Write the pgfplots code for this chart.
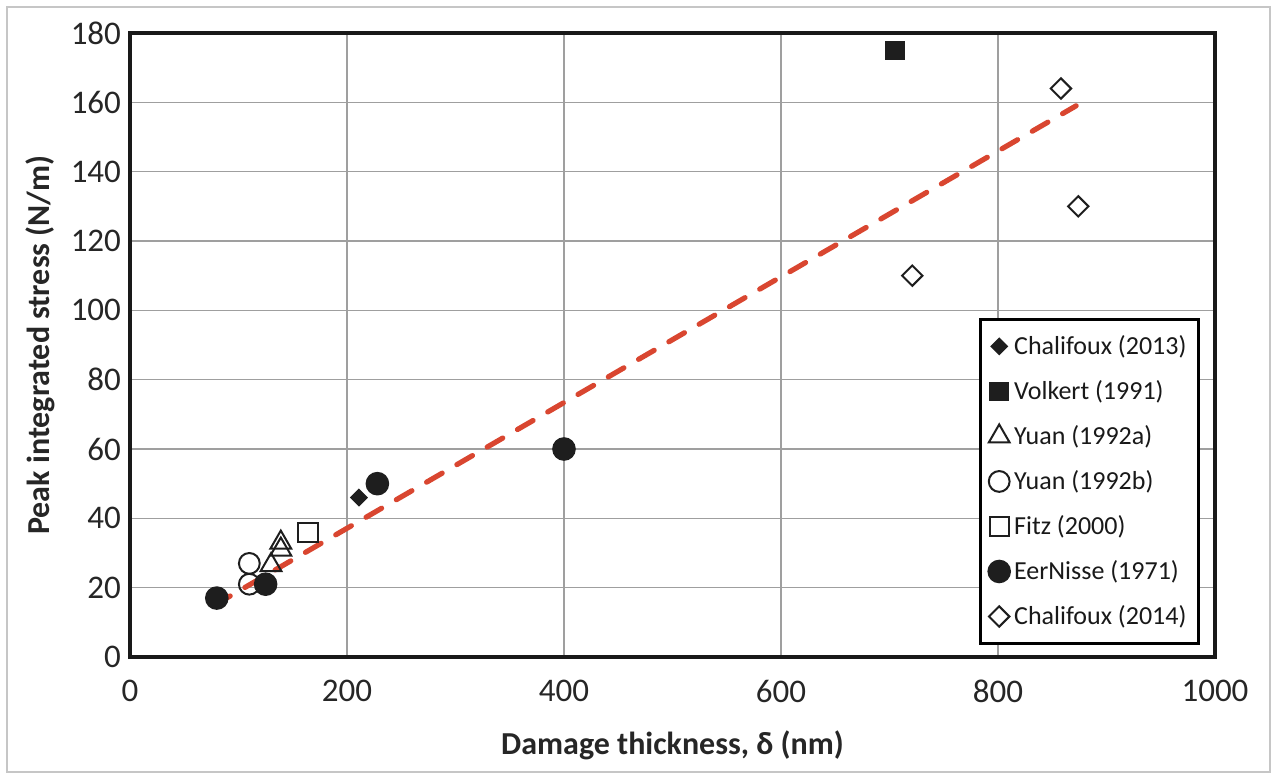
\documentclass[border=0pt]{standalone}
\usepackage{fontspec}
\setmainfont{Carlito}
\usepackage{pgfplots}
\pgfplotsset{compat=1.18}

\definecolor{trendred}{RGB}{217,70,48}
\definecolor{markblack}{RGB}{30,30,30}

\begin{document}
\begin{tikzpicture}
% outer bounds and the light frame round the chart (1px = 0.5pt)
\path (-65pt,-58pt) rectangle (570.5pt,328.5pt);
\draw[gray!45, line width=0.8pt] (-61.5pt,-57.5pt) rectangle (570pt,325pt);
\begin{axis}[
    scale only axis,
    width=542.5pt,
    height=312pt,
    xmin=0, xmax=1000,
    ymin=0, ymax=180,
    xtick={0,200,...,1000},
    ytick={0,20,...,180},
    major tick length=0pt,
    grid=major,
    grid style={gray!75, line width=0.6pt},
    axis line style={black!90, line width=2pt},
    /pgf/number format/assume math mode=true,
    /pgf/number format/1000 sep={},
    tick label style={font=\fontsize{16.5}{18}\selectfont, text=black!85},
    xticklabel style={yshift=-8pt},
    yticklabel style={xshift=-1pt},
    xlabel={Damage thickness, δ (nm)},
    ylabel={Peak integrated stress (N/m)},
    every axis x label/.style={at={([yshift=-44pt]axis description cs:0.5,0)}, anchor=center,
        font=\bfseries\fontsize{16}{18}\selectfont, text=black!85},
    every axis y label/.style={at={([xshift=-45pt]axis description cs:0,0.5)}, anchor=center, rotate=90,
        font=\bfseries\fontsize{16}{18}\selectfont, text=black!85},
    legend style={at={(1,0)}, anchor=south east, xshift=-7.5pt, yshift=6pt,
        draw=black, line width=1.5pt, fill=white,
        font=\fontsize{13}{15}\selectfont, row sep=7.5pt,
        inner xsep=4pt, inner ysep=6pt, text=black!90},
    legend cell align=left,
]
\addplot[only marks, mark=square*, mark options={rotate=45, fill=markblack, draw=markblack, line width=0.8pt}, mark size=2.8pt]
    coordinates {(211,46)};
\addlegendentry{Chalifoux (2013)}
\addplot[only marks, mark=square*, mark options={fill=markblack, draw=markblack, line width=0.8pt}, mark size=4.5pt]
    coordinates {(705,175)};
\addlegendentry{Volkert (1991)}
\addplot[only marks, mark=triangle, mark options={draw=markblack, line width=1pt, fill=white}, mark size=6pt]
    coordinates {(130,26.5) (139,31) (139,33)};
\addlegendentry{Yuan (1992a)}
\addplot[only marks, mark=o, mark options={draw=markblack, line width=1pt}, mark size=5.2pt]
    coordinates {(110,21) (110,27)};
\addlegendentry{Yuan (1992b)}
\addplot[only marks, mark=square, mark options={draw=markblack, line width=1pt, fill=white}, mark size=4.8pt]
    coordinates {(164,36)};
\addlegendentry{Fitz (2000)}
\addplot[only marks, mark=*, mark options={fill=markblack, draw=markblack, line width=0.8pt}, mark size=5.5pt]
    coordinates {(80,17) (125,21) (228,50) (400,60)};
\addlegendentry{EerNisse (1971)}
\addplot[only marks, mark=square, mark options={rotate=45, draw=markblack, fill=white, line width=1pt}, mark size=3.6pt]
    coordinates {(858,164) (874,130) (721,110)};
\addlegendentry{Chalifoux (2014)}
% linear fit
\addplot[forget plot, trendred, line width=2.6pt, line cap=round, dash pattern=on 9pt off 8.5pt]
    coordinates {(78,15) (872,159)};
\end{axis}
\end{tikzpicture}
\end{document}
